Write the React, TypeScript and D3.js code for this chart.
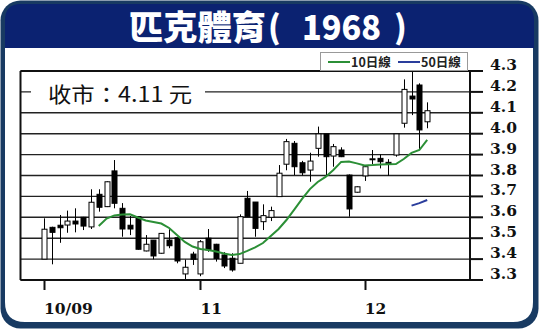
import React from "react";
import * as d3 from "d3";

const W = 539;
const H = 330;

const openP = [3.40,3.552,3.562,3.563,3.582,3.600,3.554,3.710,3.651,3.822,
3.643,3.562,3.603,3.439,3.491,3.428,3.491,3.502,3.329,3.424,
3.329,3.500,3.471,3.420,3.404,3.380,3.691,3.673,3.579,3.600,
3.699,3.854,3.954,3.861,3.826,3.930,3.999,3.893,3.922,3.802,
3.720,3.798,3.879,3.882,3.863,3.898,4.050,4.180,4.233,4.057];

const closeP = [3.543,3.528,3.550,3.582,3.568,3.558,3.672,3.648,3.770,3.667,
3.544,3.544,3.447,3.471,3.415,3.523,3.464,3.391,3.361,3.399,
3.483,3.444,3.403,3.367,3.348,3.603,3.603,3.547,3.608,3.632,
3.811,3.962,3.842,3.813,3.869,3.999,3.890,3.938,3.890,3.640,
3.746,3.842,3.880,3.866,3.854,3.999,4.212,4.166,4.018,4.110];

const highP = [3.595,3.555,3.611,3.632,3.643,3.602,3.734,3.734,3.772,3.874,
3.668,3.606,3.605,3.515,3.491,3.525,3.543,3.502,3.398,3.435,
3.491,3.544,3.473,3.433,3.428,3.614,3.726,3.673,3.662,3.651,
3.850,3.975,3.965,3.870,3.909,4.034,3.999,3.951,3.935,3.805,
3.748,3.845,3.922,3.901,3.878,3.999,4.260,4.297,4.241,4.150];

const lowP = [3.400,3.375,3.478,3.526,3.528,3.539,3.544,3.627,3.649,3.643,
3.507,3.515,3.445,3.437,3.399,3.426,3.452,3.380,3.298,3.372,
3.318,3.435,3.388,3.357,3.340,3.380,3.603,3.507,3.539,3.582,
3.699,3.825,3.802,3.800,3.770,3.890,3.794,3.842,3.888,3.603,
3.718,3.774,3.855,3.834,3.799,3.890,4.029,4.089,3.922,4.026];

const ma10 = [null,null,null,null,null,null,null,
3.558,3.594,3.609,3.613,3.614,3.599,3.585,3.578,3.570,3.549,3.515,3.482,3.460,
3.448,3.444,3.436,3.427,3.420,3.424,3.439,3.456,3.477,3.511,3.544,3.587,3.637,
3.688,3.735,3.769,3.793,3.826,3.865,3.867,3.858,3.848,3.850,3.853,3.854,3.855,
3.879,3.908,3.922,3.970];

const ma50 = [...Array(47).fill(null), 3.656, 3.668, 3.683];

const xTickIdx = [0, 20, 41];
const xTickLabels = ["10/09", "11", "12"];
const yTickValues = [3.3, 3.4, 3.5, 3.6, 3.7, 3.8, 3.9, 4.0, 4.1, 4.2, 4.3];
const yTickLabels = ["3.3", "3.4", "3.5", "3.6", "3.7", "3.8", "3.9", "4.0", "4.1", "4.2", "4.3"];

const titleCjk = "匹克體育";
const titleCode = "1968";
const noteText = "收市：4.11 元";
const legendLabels = ["10日線", "50日線"];

export default function App() {
  const left = 20.5, right = 470, top = 71, bottom = 280;
  const x = d3.scaleLinear().domain([0, openP.length - 1]).range([44, 427.2]);
  const y = d3.scaleLinear().domain([3.3, 4.3]).range([bottom, top]);
  const bw = 5;

  const line = d3.line<number | null>()
    .defined((d) => d != null)
    .x((_, i) => x(i))
    .y((d) => y(d as number));

  const serif = "'DejaVu Serif', serif";
  const cjk = "'Noto Sans CJK TC', 'Noto Sans', sans-serif";

  return (
    <div style={{ position: "absolute", left: 0, top: 0 }}>
      <svg width={W} height={H} style={{ display: "block" }}>
        <rect x={0} y={0} width={W} height={H} fill="#ffffff" />
        <rect x={0.5} y={0.5} width={W - 1} height={H - 2} rx={20} fill="#183a62" />
        <path d={`M5,48 L5,20 Q5,4 21,4 L518,4 Q534,4 534,20 L534,48 Z`} fill="#0b2271" />
        <path d={`M5,48 L533,48 L533,302 Q533,322 513,322 L25,322 Q5,322 5,302 Z`} fill="#ffffff" />

        {/* title */}
        <text x={129} y={40} fontFamily={cjk} fontWeight={900} fontSize={34} fill="#fff" textLength={137} lengthAdjust="spacingAndGlyphs">{titleCjk}</text>
        <text x={268} y={39} fontFamily={cjk} fontWeight={900} fontSize={32} fill="#fff">(</text>
        <text x={302} y={40} fontFamily={cjk} fontWeight={900} fontSize={34} fill="#fff" textLength={79} lengthAdjust="spacingAndGlyphs">{titleCode}</text>
        <text x={394} y={39} fontFamily={cjk} fontWeight={900} fontSize={32} fill="#fff">)</text>

        {/* grid */}
        {yTickValues.map((v, i) => (
          <line key={"g" + i} x1={left} x2={right} y1={y(v)} y2={y(v)} stroke="#222" strokeWidth={1.4} />
        ))}
        {/* y axis ticks */}
        {yTickValues.map((v, i) => (
          <g key={"yt" + i}>
            <line x1={right} x2={483} y1={y(v)} y2={y(v)} stroke="#111" strokeWidth={2} />
            <text x={490} y={y(v) - 1} fontFamily={serif} fontWeight="bold" fontSize={15.5} fill="#111">{yTickLabels[i]}</text>
          </g>
        ))}

        {/* annotation box */}
        <rect x={31} y={80} width={174} height={26} fill="#fff" />
        <text x={48} y={101.5} fontFamily={cjk} fontSize={21} fill="#111" textLength={144} lengthAdjust="spacingAndGlyphs">{noteText}</text>

        {/* candles */}
        {openP.map((o, i) => {
          const c = closeP[i];
          const up = c >= o;
          const yTop = y(Math.max(o, c));
          const yBot = y(Math.min(o, c));
          const cx = Math.round(x(i)) + 0.5;
          return (
            <g key={"c" + i}>
              <line x1={cx} x2={cx} y1={y(highP[i])} y2={y(lowP[i])} stroke="#000" strokeWidth={1} />
              <rect x={cx - bw / 2} y={yTop} width={bw} height={Math.max(1, yBot - yTop)}
                fill={up ? "#fff" : "#000"} stroke="#000" strokeWidth={1} />
            </g>
          );
        })}

        {/* moving averages */}
        <path d={line(ma10) || ""} fill="none" stroke="#2b8f36" strokeWidth={2} />
        <path d={line(ma50) || ""} fill="none" stroke="#2a3d9c" strokeWidth={2} />

        {/* frame */}
        <line x1={left} x2={right} y1={top} y2={top} stroke="#111" strokeWidth={2} />
        <line x1={left} x2={right} y1={bottom} y2={bottom} stroke="#111" strokeWidth={2} />
        <line x1={left} x2={left} y1={top} y2={bottom} stroke="#111" strokeWidth={2} />
        <line x1={right} x2={right} y1={top} y2={bottom} stroke="#111" strokeWidth={2} />

        {/* x ticks */}
        {xTickIdx.map((idx, i) => (
          <g key={"xt" + i}>
            <line x1={Math.round(x(idx)) + 0.5} x2={Math.round(x(idx)) + 0.5} y1={bottom} y2={290} stroke="#111" strokeWidth={2} />
            <text x={x(idx)} y={314} fontFamily={serif} fontWeight="bold" fontSize={15.5} fill="#111">{xTickLabels[i]}</text>
          </g>
        ))}

        {/* legend */}
        <rect x={320.5} y={52.5} width={147} height={18} fill="#fff" stroke="#999" strokeWidth={1} />
        <line x1={328} x2={350} y1={62} y2={62} stroke="#2b8f36" strokeWidth={2} />
        <text x={351} y={66.5} fontFamily={cjk} fontWeight={700} fontSize={12.5} fill="#222">{legendLabels[0]}</text>
        <line x1={398} x2={420} y1={62} y2={62} stroke="#2a3d9c" strokeWidth={2} />
        <text x={421} y={66.5} fontFamily={cjk} fontWeight={700} fontSize={12.5} fill="#222">{legendLabels[1]}</text>
      </svg>
    </div>
  );
}
